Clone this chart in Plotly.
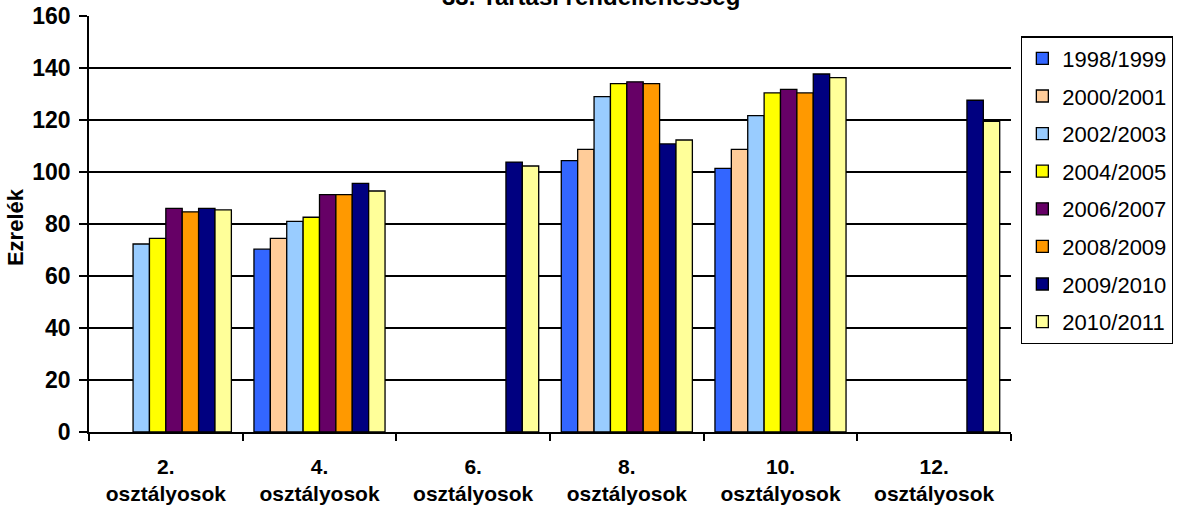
import plotly.graph_objects as go

categories = ["2.<br>osztályosok", "4.<br>osztályosok", "6.<br>osztályosok",
              "8.<br>osztályosok", "10.<br>osztályosok", "12.<br>osztályosok"]

series_names = ["1998/1999", "2000/2001", "2002/2003", "2004/2005",
                "2006/2007", "2008/2009", "2009/2010", "2010/2011"]

v_1998 = [None, 70.3, None, 104.4, 101.4, None]
v_2000 = [None, 74.5, None, 108.7, 108.7, None]
v_2002 = [72.3, 81.0, None, 129.0, 121.7, None]
v_2004 = [74.5, 82.6, None, 134.0, 130.4, None]
v_2006 = [86.0, 91.3, None, 134.7, 131.8, None]
v_2008 = [84.7, 91.3, None, 134.0, 130.4, None]
v_2009 = [86.0, 95.6, 103.8, 110.8, 137.7, 127.6]
v_2010 = [85.4, 92.7, 102.3, 112.3, 136.3, 119.5]

series_values = [v_1998, v_2000, v_2002, v_2004, v_2006, v_2008, v_2009, v_2010]
colors = ["#3366FF", "#FFCC99", "#99CCFF", "#FFFF00",
          "#660066", "#FF9900", "#000080", "#FFFF99"]

title_text = "33. Tartási rendellenesség"
y_title = "Ezrelék"
y_ticks = [0, 20, 40, 60, 80, 100, 120, 140, 160]

FONT = "Liberation Sans, Arial, sans-serif"

fig = go.Figure()
for name, vals, col in zip(series_names, series_values, colors):
    fig.add_trace(go.Bar(
        x=categories, y=vals, name=name, legendgroup=name,
        marker=dict(color=col, line=dict(color="black", width=1.3)),
    ))

fig.update_layout(
    width=1179, height=516,
    barmode="group", bargap=0.147, bargroupgap=0,
    paper_bgcolor="white", plot_bgcolor="white",
    margin=dict(l=89, r=168, t=16, b=84, autoexpand=False),
    font=dict(family=FONT, color="black"),
    showlegend=True,
    legend=dict(x=1.011, xanchor="left", y=0.951, yanchor="top",
                bordercolor="black", borderwidth=1.2, bgcolor="white",
                font=dict(size=22, family=FONT, color="black"),
                tracegroupgap=6, itemwidth=30),
    xaxis=dict(showline=True, linecolor="black", linewidth=1.5,
               ticks="outside", tickson="boundaries", ticklen=7,
               tickcolor="black", tickwidth=1.5, ticklabelstandoff=15,
               tickfont=dict(size=21, family=FONT, color="black"),
               showgrid=False, fixedrange=True, automargin=False),
    yaxis=dict(range=[0, 160], tickvals=y_ticks, showline=True,
               linecolor="black", linewidth=1.5, ticks="outside",
               ticklen=8, tickcolor="black", tickwidth=1.5,
               showgrid=True, gridcolor="black", gridwidth=1.6,
               zeroline=False, ticklabelstandoff=4,
               tickfont=dict(size=23, family=FONT, color="black"),
               automargin=False),
    annotations=[
        dict(text="<b>" + y_title + "</b>", textangle=-90,
             xref="paper", yref="paper", x=-0.079, y=0.493,
             xanchor="center", yanchor="middle", showarrow=False,
             font=dict(size=22, family=FONT, color="black")),
        dict(text="<b>" + title_text + "</b>",
             xref="paper", yref="paper", x=0.5445, y=1.046,
             xanchor="center", yanchor="middle", showarrow=False,
             font=dict(size=24, family=FONT, color="black")),
    ],
)

# make tick labels bold
fig.update_xaxes(ticktext=["<b>" + c + "</b>" for c in categories], tickvals=categories)
fig.update_yaxes(ticktext=["<b>" + str(t) + "</b>" for t in y_ticks])

fig.write_html("out.html", config={"displayModeBar": False},
               post_script="document.body.style.margin='0';")
